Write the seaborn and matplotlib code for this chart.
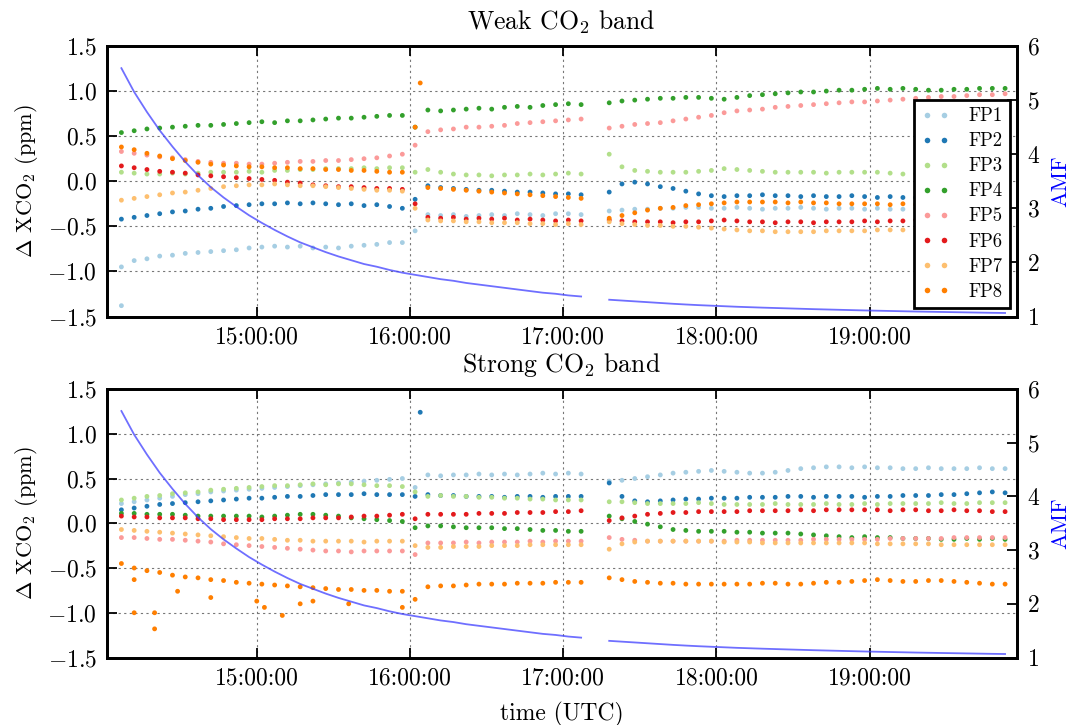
import numpy as np
import pandas as pd
import matplotlib
matplotlib.use("Agg")
import matplotlib.pyplot as plt
import matplotlib.dates as mdates
from matplotlib.lines import Line2D
import seaborn as sns

# ---------------- data ----------------
DAY = "2014-09-06 "
fps = ["FP1", "FP2", "FP3", "FP4", "FP5", "FP6", "FP7", "FP8"]

times_a = ["14:07", "14:12", "14:17", "14:22", "14:27", "14:32", "14:37", "14:42", "14:47", "14:52",
           "14:57", "15:02", "15:07", "15:12", "15:17", "15:22", "15:27", "15:32", "15:37", "15:42",
           "15:47", "15:52", "15:57", "16:02", "16:07", "16:12", "16:17", "16:22", "16:27", "16:32",
           "16:37", "16:42", "16:47", "16:52", "16:57", "17:02", "17:07"]
times_b = ["17:18", "17:23", "17:28", "17:33", "17:38", "17:43", "17:48", "17:53", "17:58", "18:03",
           "18:08", "18:13", "18:18", "18:23", "18:28", "18:33", "18:38", "18:43", "18:48", "18:53",
           "18:58", "19:03", "19:08", "19:13", "19:18", "19:23", "19:28", "19:33", "19:38", "19:43",
           "19:48", "19:53"]

amf_a = [5.59, 5.15, 4.78, 4.44, 4.14, 3.86, 3.61, 3.39, 3.20, 3.03, 2.87, 2.73, 2.60, 2.48, 2.37,
         2.28, 2.19, 2.11, 2.04, 1.97, 1.92, 1.86, 1.81, 1.77, 1.73, 1.69, 1.66, 1.62, 1.59, 1.56,
         1.53, 1.50, 1.47, 1.44, 1.42, 1.39, 1.37]
amf_b = [1.31, 1.295, 1.28, 1.265, 1.25, 1.235, 1.222, 1.21, 1.20, 1.19, 1.18, 1.172, 1.164, 1.157,
         1.15, 1.143, 1.136, 1.13, 1.124, 1.118, 1.112, 1.107, 1.102, 1.097, 1.092, 1.088, 1.084,
         1.08, 1.076, 1.072, 1.068, 1.065]

# Weak CO2 band, segment A (14:07 - 17:07)
weak_fp1_a = [-0.95, -0.88, -0.86, -0.83, -0.82, -0.80, -0.79, -0.78, -0.77, -0.76, -0.74, -0.73, -0.72,
              -0.73, -0.72, -0.74, -0.73, -0.74, -0.72, -0.71, -0.70, -0.68, -0.68, -0.55, -0.37, -0.38,
              -0.37, -0.39, -0.38, -0.37, -0.38, -0.36, -0.37, -0.38, -0.36, -0.36, -0.37]
weak_fp2_a = [-0.42, -0.40, -0.38, -0.36, -0.34, -0.33, -0.31, -0.30, -0.28, -0.27, -0.26, -0.25, -0.25,
              -0.24, -0.25, -0.24, -0.25, -0.26, -0.25, -0.27, -0.26, -0.28, -0.30, -0.20, -0.05, -0.07,
              -0.08, -0.09, -0.10, -0.10, -0.11, -0.12, -0.12, -0.13, -0.14, -0.14, -0.15]
weak_fp3_a = [0.10, 0.09, 0.08, 0.08, 0.09, 0.08, 0.09, 0.10, 0.10, 0.10, 0.11, 0.10, 0.12, 0.12, 0.13,
              0.13, 0.14, 0.14, 0.14, 0.15, 0.14, 0.15, 0.15, 0.10, 0.13, 0.10, 0.08, 0.07, 0.07, 0.06,
              0.07, 0.07, 0.08, 0.07, 0.08, 0.09, 0.08]
weak_fp4_a = [0.54, 0.56, 0.58, 0.59, 0.60, 0.61, 0.62, 0.62, 0.63, 0.64, 0.65, 0.66, 0.65, 0.67, 0.67,
              0.68, 0.69, 0.70, 0.70, 0.71, 0.72, 0.73, 0.73, 0.60, 0.79, 0.78, 0.79, 0.80, 0.81, 0.80,
              0.82, 0.83, 0.82, 0.84, 0.85, 0.86, 0.85]
weak_fp5_a = [0.33, 0.31, 0.29, 0.27, 0.26, 0.24, 0.22, 0.21, 0.20, 0.20, 0.19, 0.19, 0.20, 0.21, 0.22,
              0.22, 0.23, 0.23, 0.24, 0.25, 0.26, 0.28, 0.30, 0.40, 0.55, 0.57, 0.58, 0.60, 0.60, 0.61,
              0.62, 0.64, 0.65, 0.66, 0.67, 0.68, 0.69]
weak_fp6_a = [0.17, 0.15, 0.13, 0.11, 0.10, 0.09, 0.07, 0.06, 0.05, 0.04, 0.03, 0.02, 0.01, -0.01, -0.02,
              -0.04, -0.05, -0.06, -0.06, -0.07, -0.08, -0.08, -0.09, -0.25, -0.40, -0.41, -0.40, -0.42,
              -0.41, -0.42, -0.41, -0.43, -0.42, -0.43, -0.44, -0.43, -0.44]
weak_fp7_a = [-0.21, -0.19, -0.17, -0.15, -0.13, -0.12, -0.10, -0.08, -0.06, -0.05, -0.04, -0.04, -0.03,
              -0.04, -0.05, -0.05, -0.06, -0.07, -0.08, -0.09, -0.10, -0.10, -0.11, -0.30, -0.43, -0.44,
              -0.44, -0.45, -0.45, -0.46, -0.46, -0.46, -0.47, -0.47, -0.48, -0.47, -0.48]
weak_fp8_a = [0.38, 0.35, 0.31, 0.28, 0.25, 0.23, 0.21, 0.19, 0.18, 0.17, 0.16, 0.16, 0.15, 0.15, 0.14,
              0.14, 0.13, 0.13, 0.12, 0.12, 0.11, 0.10, 0.10, 0.60, -0.07, -0.08, -0.09, -0.10, -0.11,
              -0.12, -0.13, -0.14, -0.15, -0.16, -0.17, -0.18, -0.19]

# Weak CO2 band, segment B (17:18 - 19:53)
weak_fp1_b = [-0.33, -0.32, -0.31, -0.31, -0.30, -0.30, -0.29, -0.29, -0.30, -0.30, -0.29, -0.30, -0.31,
              -0.30, -0.30, -0.29, -0.30, -0.31, -0.30, -0.30, -0.31, -0.30, -0.31, -0.31, -0.30, -0.31,
              -0.32, -0.31, -0.32, -0.31, -0.32, -0.32]
weak_fp2_b = [-0.12, -0.03, -0.01, -0.03, -0.06, -0.08, -0.11, -0.14, -0.16, -0.17, -0.16, -0.16, -0.15,
              -0.16, -0.16, -0.17, -0.16, -0.17, -0.17, -0.16, -0.17, -0.18, -0.17, -0.18, -0.18, -0.19,
              -0.19, -0.19, -0.20, -0.20, -0.21, -0.21]
weak_fp3_b = [0.30, 0.16, 0.12, 0.11, 0.10, 0.10, 0.10, 0.11, 0.12, 0.14, 0.13, 0.12, 0.11, 0.10, 0.10,
              0.10, 0.10, 0.09, 0.10, 0.10, 0.10, 0.10, 0.09, 0.08, 0.08, 0.07, 0.07, 0.07, 0.08, 0.08,
              0.09, 0.08]
weak_fp4_b = [0.87, 0.89, 0.90, 0.91, 0.92, 0.92, 0.93, 0.93, 0.92, 0.91, 0.93, 0.95, 0.96, 0.97, 0.98,
              0.99, 0.99, 1.00, 1.01, 1.01, 1.02, 1.03, 1.02, 1.03, 1.02, 1.01, 1.01, 1.02, 1.02, 1.03,
              1.03, 1.03]
weak_fp5_b = [0.59, 0.61, 0.63, 0.64, 0.65, 0.67, 0.69, 0.71, 0.73, 0.76, 0.78, 0.79, 0.80, 0.82, 0.83,
              0.84, 0.85, 0.86, 0.87, 0.88, 0.88, 0.89, 0.90, 0.91, 0.92, 0.93, 0.94, 0.94, 0.95, 0.96,
              0.96, 0.97]
weak_fp6_b = [-0.43, -0.44, -0.45, -0.45, -0.45, -0.46, -0.45, -0.45, -0.44, -0.43, -0.44, -0.45, -0.45,
              -0.46, -0.45, -0.45, -0.46, -0.45, -0.45, -0.45, -0.44, -0.45, -0.44, -0.44, -0.43, -0.43,
              -0.42, -0.42, -0.41, -0.41, -0.40, -0.40]
weak_fp7_b = [-0.45, -0.47, -0.48, -0.49, -0.49, -0.50, -0.50, -0.51, -0.52, -0.53, -0.54, -0.55, -0.55,
              -0.56, -0.56, -0.56, -0.56, -0.55, -0.55, -0.55, -0.55, -0.54, -0.54, -0.54, -0.53, -0.53,
              -0.52, -0.52, -0.52, -0.51, -0.51, -0.51]
weak_fp8_b = [-0.41, -0.38, -0.35, -0.32, -0.30, -0.29, -0.27, -0.26, -0.25, -0.24, -0.23, -0.23, -0.23,
              -0.23, -0.24, -0.23, -0.24, -0.24, -0.25, -0.25, -0.25, -0.25, -0.26, -0.25, -0.26, -0.26,
              -0.27, -0.27, -0.28, -0.28, -0.29, -0.29]

# Strong CO2 band, segment A
strong_fp1_a = [0.22, 0.24, 0.26, 0.28, 0.30, 0.32, 0.33, 0.35, 0.36, 0.37, 0.38, 0.39, 0.40, 0.41, 0.42,
                0.43, 0.44, 0.45, 0.46, 0.47, 0.48, 0.49, 0.50, 0.40, 0.54, 0.53, 0.54, 0.54, 0.55, 0.54,
                0.55, 0.54, 0.55, 0.56, 0.55, 0.56, 0.55]
strong_fp2_a = [0.15, 0.17, 0.19, 0.21, 0.22, 0.23, 0.24, 0.25, 0.26, 0.27, 0.28, 0.28, 0.29, 0.30, 0.30,
                0.31, 0.32, 0.32, 0.32, 0.33, 0.32, 0.32, 0.32, 0.30, 0.32, 0.31, 0.31, 0.30, 0.30, 0.30,
                0.29, 0.30, 0.30, 0.29, 0.30, 0.30, 0.30]
strong_fp3_a = [0.26, 0.28, 0.30, 0.31, 0.33, 0.34, 0.35, 0.37, 0.38, 0.39, 0.40, 0.41, 0.42, 0.42, 0.43,
                0.44, 0.43, 0.44, 0.44, 0.43, 0.42, 0.42, 0.41, 0.35, 0.30, 0.31, 0.30, 0.30, 0.29, 0.29,
                0.28, 0.28, 0.27, 0.27, 0.26, 0.26, 0.26]
strong_fp4_a = [0.11, 0.11, 0.10, 0.10, 0.10, 0.09, 0.08, 0.08, 0.08, 0.08, 0.08, 0.07, 0.08, 0.09, 0.10,
                0.10, 0.09, 0.08, 0.06, 0.05, 0.04, 0.03, 0.02, -0.05, -0.03, -0.03, -0.04, -0.05, -0.05,
                -0.05, -0.06, -0.06, -0.07, -0.08, -0.08, -0.09, -0.09]
strong_fp5_a = [-0.16, -0.16, -0.17, -0.18, -0.18, -0.19, -0.20, -0.21, -0.23, -0.24, -0.25, -0.26, -0.27,
                -0.28, -0.29, -0.30, -0.31, -0.31, -0.32, -0.31, -0.31, -0.31, -0.31, -0.35, -0.22, -0.22,
                -0.22, -0.21, -0.22, -0.21, -0.21, -0.21, -0.20, -0.21, -0.20, -0.20, -0.20]
strong_fp6_a = [0.08, 0.07, 0.07, 0.06, 0.06, 0.06, 0.05, 0.05, 0.04, 0.04, 0.04, 0.04, 0.05, 0.05, 0.05,
                0.06, 0.06, 0.06, 0.07, 0.08, 0.08, 0.09, 0.10, 0.05, 0.10, 0.10, 0.10, 0.10, 0.11, 0.11,
                0.11, 0.12, 0.12, 0.12, 0.13, 0.13, 0.14]
strong_fp7_a = [-0.07, -0.08, -0.09, -0.10, -0.11, -0.12, -0.13, -0.14, -0.15, -0.16, -0.17, -0.17, -0.18,
                -0.19, -0.19, -0.20, -0.20, -0.20, -0.20, -0.21, -0.20, -0.20, -0.20, -0.25, -0.27, -0.27,
                -0.26, -0.26, -0.26, -0.25, -0.25, -0.25, -0.24, -0.24, -0.24, -0.24, -0.24]
strong_fp8_a = [-0.45, -0.50, -0.53, -0.55, -0.58, -0.60, -0.61, -0.63, -0.64, -0.66, -0.67, -0.68, -0.69,
                -0.70, -0.71, -0.72, -0.73, -0.74, -0.74, -0.75, -0.75, -0.76, -0.76, -0.85, -0.71, -0.70,
                -0.70, -0.69, -0.68, -0.68, -0.68, -0.67, -0.67, -0.67, -0.66, -0.66, -0.66]

# Strong CO2 band, segment B
strong_fp1_b = [0.47, 0.48, 0.50, 0.52, 0.54, 0.56, 0.57, 0.58, 0.59, 0.58, 0.57, 0.56, 0.56, 0.57, 0.59,
                0.61, 0.62, 0.63, 0.63, 0.62, 0.63, 0.62, 0.62, 0.61, 0.61, 0.62, 0.61, 0.61, 0.61, 0.62,
                0.61, 0.61]
strong_fp2_b = [0.45, 0.30, 0.25, 0.24, 0.25, 0.26, 0.27, 0.27, 0.28, 0.28, 0.28, 0.29, 0.29, 0.29, 0.30,
                0.30, 0.29, 0.30, 0.30, 0.30, 0.29, 0.30, 0.30, 0.31, 0.31, 0.31, 0.32, 0.32, 0.33, 0.34,
                0.35, 0.34]
strong_fp3_b = [0.24, 0.24, 0.23, 0.22, 0.22, 0.22, 0.22, 0.23, 0.22, 0.21, 0.21, 0.21, 0.21, 0.22, 0.21,
                0.21, 0.21, 0.22, 0.21, 0.21, 0.22, 0.21, 0.22, 0.22, 0.22, 0.22, 0.23, 0.22, 0.22, 0.23,
                0.23, 0.23]
strong_fp4_b = [0.08, 0.05, 0.02, -0.01, -0.04, -0.07, -0.08, -0.09, -0.09, -0.09, -0.10, -0.10, -0.11,
                -0.11, -0.11, -0.12, -0.13, -0.14, -0.15, -0.16, -0.15, -0.16, -0.16, -0.17, -0.17, -0.17,
                -0.18, -0.18, -0.17, -0.18, -0.17, -0.18]
strong_fp5_b = [-0.16, -0.18, -0.19, -0.20, -0.20, -0.20, -0.20, -0.20, -0.20, -0.20, -0.19, -0.19, -0.19,
                -0.19, -0.19, -0.19, -0.18, -0.18, -0.18, -0.18, -0.18, -0.18, -0.17, -0.17, -0.17, -0.17,
                -0.17, -0.16, -0.16, -0.16, -0.16, -0.16]
strong_fp6_b = [0.03, 0.06, 0.08, 0.10, 0.11, 0.12, 0.12, 0.13, 0.13, 0.13, 0.13, 0.14, 0.14, 0.14, 0.14,
                0.15, 0.14, 0.15, 0.15, 0.15, 0.15, 0.15, 0.14, 0.15, 0.15, 0.14, 0.14, 0.15, 0.14, 0.14,
                0.13, 0.13]
strong_fp7_b = [-0.29, -0.23, -0.21, -0.20, -0.20, -0.20, -0.20, -0.20, -0.20, -0.21, -0.21, -0.21, -0.22,
                -0.22, -0.22, -0.22, -0.22, -0.22, -0.22, -0.22, -0.22, -0.23, -0.23, -0.23, -0.23, -0.23,
                -0.24, -0.24, -0.24, -0.24, -0.24, -0.24]
strong_fp8_b = [-0.61, -0.63, -0.65, -0.66, -0.67, -0.67, -0.68, -0.68, -0.68, -0.68, -0.68, -0.68, -0.67,
                -0.67, -0.68, -0.68, -0.67, -0.66, -0.66, -0.65, -0.64, -0.63, -0.64, -0.65, -0.65, -0.64,
                -0.64, -0.65, -0.66, -0.67, -0.68, -0.68]

# isolated points (outliers)
weak_out_fp = ["FP1", "FP8"]
weak_out_time = ["14:07", "16:04"]
weak_out_val = [-1.38, 1.09]
strong_out_fp = ["FP8"] * 13 + ["FP2"]
strong_out_time = ["14:12", "14:12", "14:20", "14:20", "14:29", "14:42", "15:00", "15:03", "15:10",
                   "15:17", "15:22", "15:36", "15:57", "16:04"]
strong_out_val = [-0.63, -1.00, -1.18, -1.00, -0.76, -0.83, -0.87, -0.94, -1.03, -0.90, -0.87, -0.90,
                  -0.94, 1.24]

weak_a = [weak_fp1_a, weak_fp2_a, weak_fp3_a, weak_fp4_a, weak_fp5_a, weak_fp6_a, weak_fp7_a, weak_fp8_a]
weak_b = [weak_fp1_b, weak_fp2_b, weak_fp3_b, weak_fp4_b, weak_fp5_b, weak_fp6_b, weak_fp7_b, weak_fp8_b]
strong_a = [strong_fp1_a, strong_fp2_a, strong_fp3_a, strong_fp4_a, strong_fp5_a, strong_fp6_a,
            strong_fp7_a, strong_fp8_a]
strong_b = [strong_fp1_b, strong_fp2_b, strong_fp3_b, strong_fp4_b, strong_fp5_b, strong_fp6_b,
            strong_fp7_b, strong_fp8_b]


def to_dt(ts):
    return pd.to_datetime([DAY + t for t in ts])


def build_frame(seg_a, seg_b, out_fp, out_time, out_val):
    rows = []
    for fp, va, vb in zip(fps, seg_a, seg_b):
        rows.append(pd.DataFrame({"time": to_dt(times_a), "dxco2": va, "FP": fp}))
        rows.append(pd.DataFrame({"time": to_dt(times_b), "dxco2": vb, "FP": fp}))
    rows.append(pd.DataFrame({"time": to_dt(out_time), "dxco2": out_val, "FP": out_fp}))
    df = pd.concat(rows, ignore_index=True)
    df["order"] = df["FP"].map({f: i for i, f in enumerate(fps)})
    return df.sort_values("order", kind="stable")


weak_df = build_frame(weak_a, weak_b, weak_out_fp, weak_out_time, weak_out_val)
strong_df = build_frame(strong_a, strong_b, strong_out_fp, strong_out_time, strong_out_val)

# ---------------- style ----------------
plt.rcParams["font.family"] = ["cmr10", "DejaVu Serif"]
plt.rcParams["mathtext.fontset"] = "cm"
plt.rcParams["axes.formatter.use_mathtext"] = True
plt.rcParams["axes.unicode_minus"] = True

pal = sns.color_palette("Paired", 8)
xmin = pd.Timestamp(DAY + "14:01:10")
xmax = pd.Timestamp(DAY + "19:57:40")

fig = plt.figure(figsize=(10.75, 7.25), dpi=100)
W, H = 1075.0, 725.0
L, R = 106.5, 1017.0
ax_top = fig.add_axes([L / W, 1 - 316.5 / H, (R - L) / W, (316.5 - 46) / H])
ax_bot = fig.add_axes([L / W, 1 - 657.5 / H, (R - L) / W, (657.5 - 389) / H])

TICK_FS = 17
LABEL_FS = 16
TITLE_FS = 18.5


def draw_panel(ax, df, title, xlabel):
    ax.grid(True, linestyle=(0, (2, 3)), color="#777777", linewidth=0.8)
    ax.set_axisbelow(True)
    sns.scatterplot(data=df, x="time", y="dxco2", hue="FP", hue_order=fps, palette=pal,
                    s=12, linewidth=0, ax=ax, legend=False, zorder=2)
    ax.set_xlim(xmin, xmax)
    ax.set_ylim(-1.5, 1.5)
    ax.set_yticks([-1.5, -1.0, -0.5, 0.0, 0.5, 1.0, 1.5])
    ax.xaxis.set_major_locator(mdates.HourLocator())
    ax.xaxis.set_major_formatter(mdates.DateFormatter("%H:%M:%S"))
    ax.tick_params(axis="both", which="both", direction="in", length=7.5, width=1.3,
                   labelsize=TICK_FS, top=True, right=False, pad=7)
    for sp in ax.spines.values():
        sp.set_linewidth(2.0)
    ax.set_ylabel(r"$\Delta$ XCO$_2$ (ppm)", fontsize=LABEL_FS, labelpad=5)
    ax.set_xlabel(xlabel, fontsize=LABEL_FS + 1, labelpad=9)
    ax.set_title(r"%s CO$_2$ band" % title, fontsize=TITLE_FS, pad=12)

    ax2 = ax.twinx()
    ax2.plot(to_dt(times_a), amf_a, color="#3f3fff", alpha=0.75, linewidth=1.3)
    ax2.plot(to_dt(times_b), amf_b, color="#3f3fff", alpha=0.75, linewidth=1.3)
    ax2.set_ylim(1, 6)
    ax2.set_yticks([1, 2, 3, 4, 5, 6])
    ax2.set_xlim(xmin, xmax)
    ax2.tick_params(axis="y", direction="in", length=7.5, width=1.3, labelsize=TICK_FS, pad=7)
    for sp in ax2.spines.values():
        sp.set_linewidth(2.0)
    ax2.set_ylabel("AMF", color="blue", fontsize=LABEL_FS, labelpad=8)
    return ax2


ax2_top = draw_panel(ax_top, weak_df, "Weak", "")
ax2_bot = draw_panel(ax_bot, strong_df, "Strong", "time (UTC)")

handles = [Line2D([0], [0], marker="o", linestyle="", color=c, markersize=4, markeredgewidth=0)
           for c in pal]
leg = ax2_top.legend(handles, fps, numpoints=2, loc="lower right", bbox_to_anchor=(0.992, 0.031),
                     borderaxespad=0, frameon=True, fancybox=False, framealpha=1, edgecolor="black",
                     fontsize=13.5, labelspacing=0.38, handlelength=1.5, handletextpad=1.0,
                     borderpad=0.4)
leg.get_frame().set_linewidth(2.0)

fig.savefig("out.png", dpi=100)
